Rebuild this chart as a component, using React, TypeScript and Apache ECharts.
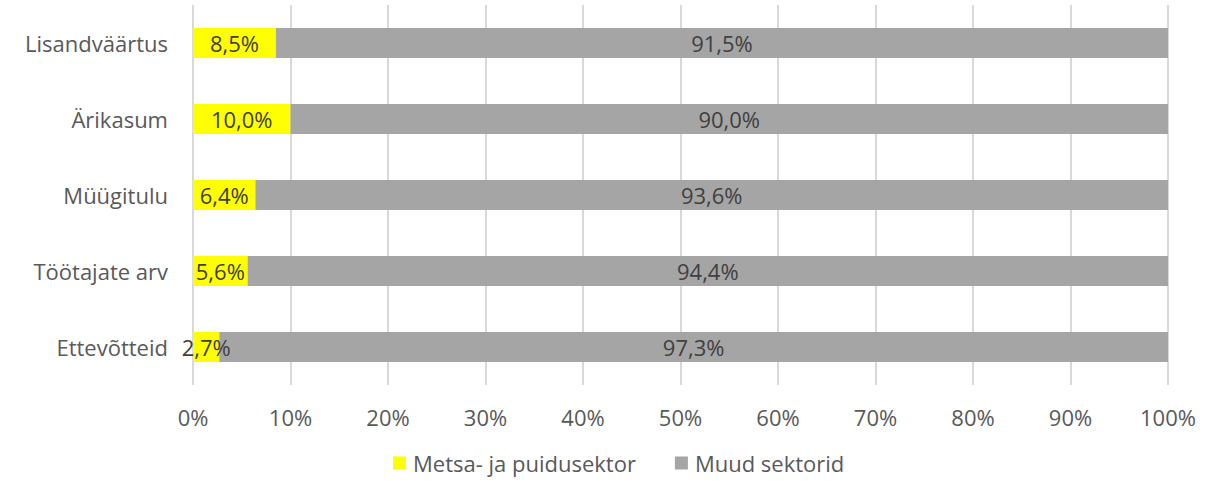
import React, { useEffect, useRef } from "react";
import * as echarts from "echarts";

const categories = ["Ettevõtteid", "Töötajate arv", "Müügitulu", "Ärikasum", "Lisandväärtus"];
const forestValues = [2.7, 5.6, 6.4, 10.0, 8.5];
const otherValues = [97.3, 94.4, 93.6, 90.0, 91.5];
const seriesNames = ["Metsa- ja puidusektor", "Muud sektorid"];
const xTicks = [0, 10, 20, 30, 40, 50, 60, 70, 80, 90, 100];

const FONT = "'Open Sans', 'Noto Sans', sans-serif";
const FS = 22;
const fmt = (v: number) => v.toFixed(1).replace(".", ",") + "%";

export default function App() {
  const ref = useRef<HTMLDivElement>(null);
  useEffect(() => {
    document.body.style.margin = "0";
    const chart = echarts.init(ref.current!, null, { renderer: "svg" });
    chart.setOption({
      animation: false,
      textStyle: { fontFamily: FONT },
      grid: { left: 193, right: 54, top: 5, bottom: 96 },
      legend: {
        bottom: 2,
        left: 388,
        itemWidth: 13,
        itemHeight: 13,
        itemGap: 39,
        icon: "rect",
        textStyle: { fontSize: FS, color: "#595959", fontFamily: FONT, padding: [0, 0, 0, 2] },
        data: seriesNames,
      },
      xAxis: {
        type: "value",
        min: xTicks[0],
        max: xTicks[xTicks.length - 1],
        interval: 10,
        axisLabel: {
          fontSize: FS,
          color: "#595959",
          margin: 21,
          formatter: (v: number) => v + "%",
        },
        axisLine: { show: false },
        axisTick: { show: false },
        splitLine: { show: true, lineStyle: { color: "#D9D9D9", width: 2 } },
      },
      yAxis: {
        type: "category",
        data: categories,
        axisLabel: { fontSize: FS, color: "#595959", margin: 25 },
        axisLine: { show: false },
        axisTick: { show: false },
      },
      series: [
        {
          name: seriesNames[0],
          type: "bar",
          stack: "total",
          data: forestValues,
          barWidth: 30,
          itemStyle: { color: "#FFFF00" },
          label: {
            show: true,
            position: "inside",
            fontSize: FS,
            color: "#404040",
            fontFamily: FONT,
            formatter: (p: any) => fmt(p.value),
          },
        },
        {
          name: seriesNames[1],
          type: "bar",
          stack: "total",
          data: otherValues,
          barWidth: 30,
          itemStyle: { color: "#A5A5A5" },
          label: {
            show: true,
            position: "inside",
            fontSize: FS,
            color: "#404040",
            fontFamily: FONT,
            formatter: (p: any) => fmt(p.value),
          },
        },
      ],
    });
    return () => chart.dispose();
  }, []);
  return <div ref={ref} style={{ width: 1222, height: 481 }} />;
}
